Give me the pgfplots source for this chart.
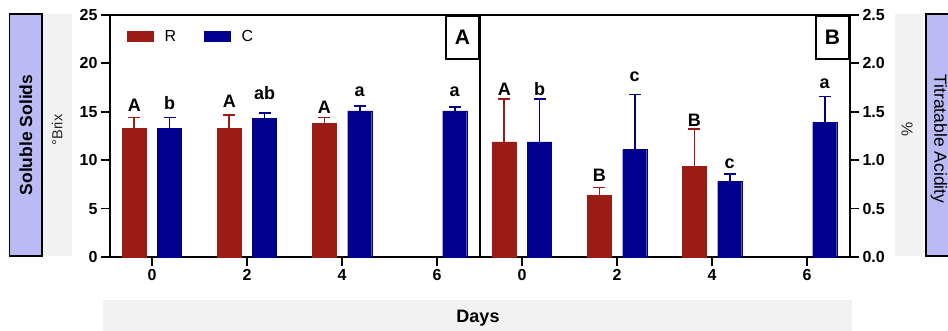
\documentclass[border=0pt]{standalone}
\usepackage{pgfplots}
\pgfplotsset{compat=1.18}
\usepackage{fontspec}
\setmainfont{Liberation Sans}
\definecolor{Rred}{RGB}{155,28,20}
\definecolor{Cblue}{RGB}{0,0,140}
\definecolor{lav}{RGB}{186,186,245}
\definecolor{lgrey}{RGB}{242,242,242}
\pgfplotsset{
  panel/.style={
    scale only axis, width=370pt, height=242pt,
    axis line style={line width=1.8pt},
    major tick style={line width=1.8pt, black},
    tick align=outside, major tick length=9pt,
    xmin=-0.884, xmax=6.905, ymin=0,
    xtick={0,2,4,6}, xtick pos=bottom,
    ticklabel style={font=\bfseries\fontsize{16}{16}\selectfont},
    /pgf/number format/assume math mode=true,
    clip=false,
  },
  rbar/.style={ybar, bar width=24pt, bar shift=-17.7pt, fill=Rred, draw=Rred},
  cbar/.style={ybar, bar width=24pt, bar shift=17.7pt, fill=Cblue, draw=Cblue},
  rerr/.style={draw=none, mark=none, forget plot,
    error bars/.cd, y dir=plus, y explicit,
    error bar style={draw=Rred, line width=1.6pt},
    error mark options={draw=Rred, line width=1.6pt, mark size=6pt, rotate=90}},
  cerr/.style={draw=none, mark=none, forget plot,
    error bars/.cd, y dir=plus, y explicit,
    error bar style={draw=Cblue, line width=1.6pt},
    error mark options={draw=Cblue, line width=1.6pt, mark size=6pt, rotate=90}},
  labs/.style={draw=none, mark=none, forget plot, nodes near coords,
    point meta=explicit symbolic,
    nodes near coords style={anchor=base, inner sep=0pt, text=black,
      font=\bfseries\fontsize{18}{18}\selectfont}},
}
\begin{document}
\begin{tikzpicture}
\useasboundingbox (0pt,0pt) rectangle (948pt,331pt);
% side decorations
\fill[lgrey] (42pt,75pt) rectangle (72pt,317pt);
\filldraw[fill=lav, draw=black, line width=1.5pt] (9.5pt,75pt) rectangle (42pt,317pt);
\node[rotate=90, font=\bfseries\fontsize{17.5}{17.5}\selectfont] at (25.75pt,196pt) {Soluble Solids};
\node[rotate=90, font=\fontsize{14.5}{14.5}\selectfont, text=black!85] at (57pt,201pt) {°Brix};
\fill[lgrey] (895pt,75pt) rectangle (923pt,317pt);
\filldraw[fill=lav, draw=black, line width=1.5pt] (926pt,75pt) rectangle (962pt,317pt);
\node[rotate=90, font=\fontsize{16}{16}\selectfont, text=black!85] at (907pt,202pt) {\%};
\node[rotate=-90, font=\fontsize{17.5}{17.5}\selectfont] at (939pt,192pt) {Titratable Acidity};
\fill[lgrey] (103pt,0pt) rectangle (852pt,31pt);
\node[font=\bfseries\fontsize{18}{18}\selectfont] at (478pt,13pt) {Days};

% left panel
\begin{axis}[panel, at={(110pt,74pt)}, anchor=south west,
  ymax=25, ytick={0,5,10,15,20,25}, ytick pos=left,
  legend columns=2,
  legend style={draw=none, fill=none, at={(0,1)}, anchor=north west,
    xshift=17pt, yshift=-15pt, inner sep=0pt,
    font=\fontsize{16}{16}\selectfont,
    nodes={inner sep=0pt, anchor=west},
    column sep=11pt},
  legend cell align=left,
  /tikz/every even column/.append style={column sep=28pt},
]
\addplot[legend image code/.code={\fill[Rred] (0pt,-5pt) rectangle (26pt,5pt);}, rbar]
  table[x=x, y=y] {
x y
0 13.3
2 13.3
4 13.8
};
\addlegendentry{R}
\addplot[legend image code/.code={\fill[Cblue] (0pt,-5pt) rectangle (26pt,5pt);}, cbar]
  table[x=x, y=y] {
x y
0 13.3
2 14.3
4 15.1
6 15.1
};
\addlegendentry{C}
\addplot[rerr] table[x=x, y=y, y error=e] {
x y e
-0.3726 13.3 1.1
1.6274 13.3 1.35
3.6274 13.8 0.6
};
\addplot[cerr] table[x=x, y=y, y error=e] {
x y e
0.3726 13.3 1.1
2.3726 14.3 0.6
4.3726 15.1 0.5
6.3726 15.1 0.4
};
\addplot[labs] table[meta=lab] {
x y lab
-0.3726 15.0 A
0.3726 15.27 b
1.6274 15.45 A
2.3726 16.28 ab
3.6274 14.83 A
4.3726 16.55 a
6.3726 16.55 a
};
\node[draw=black, line width=2pt, anchor=north east, minimum width=33pt,
  minimum height=43pt, inner sep=0pt, fill=white,
  font=\bfseries\fontsize{21}{21}\selectfont] at (rel axis cs:1,1) {A};
\end{axis}

% right panel
\begin{axis}[panel, at={(480pt,74pt)}, anchor=south west,
  ymax=2.5, ytick={0,0.5,1,1.5,2,2.5}, ytick pos=right, yticklabel pos=right,
  yticklabel style={/pgf/number format/.cd, fixed, fixed zerofill, precision=1},
]
\addplot[rbar] table[x=x, y=y] {
x y
0 1.19
2 0.64
4 0.94
};
\addplot[cbar] table[x=x, y=y] {
x y
0 1.19
2 1.11
4 0.78
6 1.39
};
\addplot[rerr] table[x=x, y=y, y error=e] {
x y e
-0.3726 1.19 0.44
1.6274 0.64 0.08
3.6274 0.94 0.38
};
\addplot[cerr] table[x=x, y=y, y error=e] {
x y e
0.3726 1.19 0.44
2.3726 1.11 0.57
4.3726 0.78 0.08
6.3726 1.39 0.27
};
\addplot[labs] table[meta=lab] {
x y lab
-0.3726 1.672 A
0.3726 1.672 b
1.6274 0.783 B
2.3726 1.81 c
3.6274 1.352 B
4.3726 0.914 c
6.3726 1.741 a
};
\node[draw=black, line width=2pt, anchor=north east, minimum width=33pt,
  minimum height=43pt, inner sep=0pt, fill=white,
  font=\bfseries\fontsize{21}{21}\selectfont] at (rel axis cs:1,1) {B};
\end{axis}
\end{tikzpicture}
\end{document}
